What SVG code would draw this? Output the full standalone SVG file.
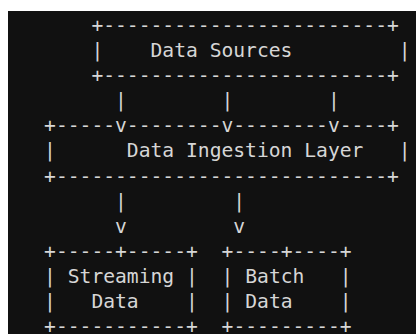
<svg xmlns="http://www.w3.org/2000/svg" width="416" height="334" viewBox="0 0 416 334">
<style>
text{font-family:"DejaVu Sans Mono","Liberation Mono",monospace;font-size:19.65px;fill:#d6d6d6;white-space:pre}
</style>
<rect x="0" y="0" width="416" height="334" fill="#ffffff"/>
<rect x="8" y="11" width="408" height="323" fill="#111111"/>
<g id="data-sources">
<text x="91.4" y="31.9" xml:space="preserve">+------------------------+</text>
<text x="91.4" y="57" xml:space="preserve">|    Data Sources         |</text>
<text x="91.4" y="82.1" xml:space="preserve">+------------------------+</text>
</g>
<g id="data-ingestion-layer">
<text x="44.1" y="132.3" xml:space="preserve">+-----v--------v--------v----+</text>
<text x="44.1" y="157.4" xml:space="preserve">|      Data Ingestion Layer   |</text>
<text x="44.1" y="182.5" xml:space="preserve">+----------------------------+</text>
</g>
<g id="streaming-data">
<text x="44.1" y="257.8" xml:space="preserve">+-----+-----+</text>
<text x="44.1" y="282.9" xml:space="preserve">| Streaming |</text>
<text x="44.1" y="308" xml:space="preserve">|   Data    |</text>
<text x="44.1" y="333.1" xml:space="preserve">+-----------+</text>
</g>
<g id="batch-data">
<text x="221.6" y="257.8" xml:space="preserve">+----+----+</text>
<text x="221.6" y="282.9" xml:space="preserve">| Batch   |</text>
<text x="221.6" y="308" xml:space="preserve">| Data    |</text>
<text x="221.6" y="333.1" xml:space="preserve">+---------+</text>
</g>
<g id="connectors">
<text x="115.1" y="107.2" xml:space="preserve">|        |        |</text>
<text x="115.1" y="207.6" xml:space="preserve">|         |</text>
<text x="115.1" y="232.7" xml:space="preserve">v         v</text>
</g>
</svg>
